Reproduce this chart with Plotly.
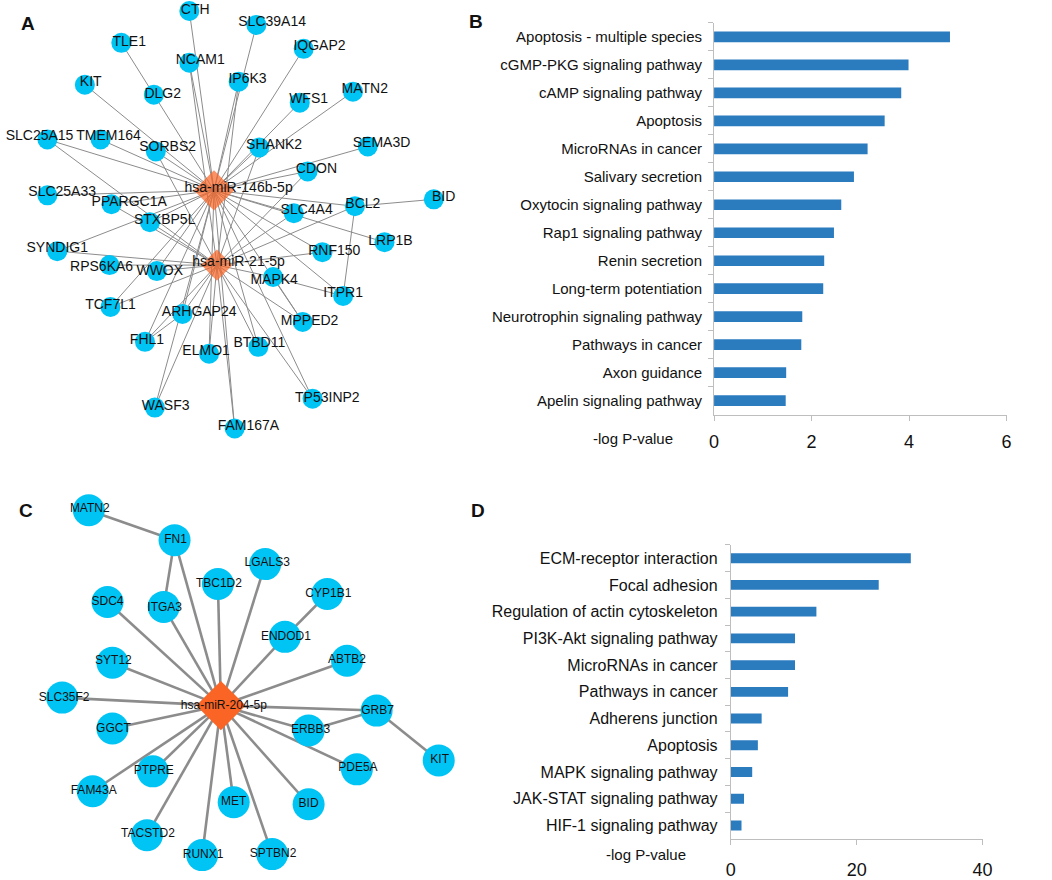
import plotly.graph_objects as go

# ---------------- Panel B data ----------------
b_terms = ["Apoptosis - multiple species", "cGMP-PKG signaling pathway", "cAMP signaling pathway",
           "Apoptosis", "MicroRNAs in cancer", "Salivary secretion", "Oxytocin signaling pathway",
           "Rap1 signaling pathway", "Renin secretion", "Long-term potentiation",
           "Neurotrophin signaling pathway", "Pathways in cancer", "Axon guidance",
           "Apelin signaling pathway"]
b_values = [4.84, 3.99, 3.84, 3.50, 3.15, 2.87, 2.61, 2.46, 2.26, 2.24, 1.81, 1.79, 1.48, 1.47]
b_ticks = [0, 2, 4, 6]

# ---------------- Panel D data ----------------
d_terms = ["ECM-receptor interaction", "Focal adhesion", "Regulation of actin cytoskeleton",
           "PI3K-Akt signaling pathway", "MicroRNAs in cancer", "Pathways in cancer",
           "Adherens junction", "Apoptosis", "MAPK signaling pathway",
           "JAK-STAT signaling pathway", "HIF-1 signaling pathway"]
d_values = [28.6, 23.5, 13.6, 10.2, 10.2, 9.1, 4.9, 4.3, 3.4, 2.1, 1.7]
d_ticks = [0, 20, 40]

# ---------------- Panel A network (layout coordinates) ----------------
a_genes = ["CTH", "SLC39A14", "TLE1", "NCAM1", "IQGAP2", "IP6K3", "KIT", "DLG2", "MATN2", "WFS1",
           "SLC25A15", "TMEM164", "SORBS2", "SHANK2", "SEMA3D", "CDON", "SLC25A33", "PPARGC1A",
           "BCL2", "BID", "SLC4A4", "STXBP5L", "SYNDIG1", "LRP1B", "RNF150", "RPS6KA6", "WWOX",
           "MAPK4", "ITPR1", "TCF7L1", "ARHGAP24", "MPPED2", "FHL1", "ELMO1", "BTBD11", "WASF3",
           "TP53INP2", "FAM167A"]
a_x = [187, 255, 118, 187, 303, 237, 81, 151, 353, 299, 43, 97, 153, 258, 368, 307, 43, 108,
       355, 435, 293, 147, 53, 385, 322, 106, 154, 272, 343, 107, 180, 302, 142, 207, 257, 152,
       312, 233]
a_y = [11, 25, 43, 63, 49, 82, 85, 95, 92, 103, 140, 140, 152, 148, 147, 172, 196, 205,
       207, 200, 214, 223, 252, 243, 253, 266, 272, 278, 297, 308, 315, 323, 343, 355, 348, 409,
       400, 430]
a_lx = [193, 271, 126, 198, 319, 246, 87, 160, 365, 308, 35, 105, 165, 273, 382, 316, 58, 126,
        363, 445, 306, 162, 53, 391, 334, 98, 157, 273, 343, 107, 197, 309, 144, 204, 258, 163,
        327, 247]
a_ly = [11, 23, 43, 61, 47, 80, 83, 95, 90, 100, 137, 137, 148, 146, 144, 170, 193, 203,
        205, 198, 211, 221, 249, 242, 252, 268, 272, 281, 295, 307, 314, 323, 342, 353, 345, 408,
        400, 428]
a_mirs = ["hsa-miR-146b-5p", "hsa-miR-21-5p"]
a_mir_x = [212, 215]
a_mir_y = [191, 266]
a_mir_lx = [237, 237]
a_mir_ly = [189, 263]

a_targets_146b = ["CTH", "SLC39A14", "NCAM1", "IQGAP2", "IP6K3", "KIT", "DLG2", "MATN2", "WFS1",
                  "SLC25A15", "TMEM164", "SORBS2", "SHANK2", "SEMA3D", "CDON", "SLC25A33",
                  "PPARGC1A", "STXBP5L", "BCL2", "SLC4A4", "LRP1B", "ITPR1", "RNF150", "MPPED2",
                  "BTBD11", "TP53INP2", "FAM167A", "ELMO1", "ARHGAP24", "WWOX", "FHL1", "WASF3",
                  "SYNDIG1", "TCF7L1"]
a_targets_21 = ["SLC25A15", "SORBS2", "SHANK2", "CDON", "BCL2", "SLC4A4", "RNF150", "MAPK4",
                "MPPED2", "PPARGC1A", "STXBP5L", "SYNDIG1", "RPS6KA6", "WWOX", "TCF7L1",
                "ARHGAP24", "FHL1", "ELMO1", "BTBD11", "WASF3", "FAM167A", "TP53INP2", "NCAM1",
                "IP6K3"]
a_gene_links = [("TLE1", "DLG2"), ("BID", "BCL2"), ("BCL2", "ITPR1"), ("MAPK4", "ITPR1"),
                ("MAPK4", "MPPED2"), ("ARHGAP24", "FHL1")]

# ---------------- Panel C network ----------------
c_genes = ["MATN2", "FN1", "LGALS3", "TBC1D2", "CYP1B1", "SDC4", "ITGA3", "ENDOD1", "ABTB2",
           "SYT12", "SLC35F2", "GRB7", "GGCT", "ERBB3", "KIT", "PDE5A", "PTPRE", "FAM43A", "MET",
           "BID", "TACSTD2", "RUNX1", "SPTBN2"]
c_x = [85, 172, 264, 216, 327, 104, 161, 284, 347, 109, 58, 377, 109, 308, 440, 357, 150, 89,
       232, 308, 144, 200, 271]
c_y = [512, 542, 566, 586, 596, 604, 609, 639, 663, 665, 700, 713, 731, 733, 763, 772, 774, 794,
       805, 807, 838, 858, 857]
c_lx = [86, 173, 266, 217, 328, 104, 162, 285, 347, 110, 60, 378, 110, 310, 441, 358, 151, 90,
        232, 308, 145, 201, 272]
c_ly = [511, 542, 565, 586, 596, 604, 610, 639, 662, 663, 700, 713, 731, 732, 763, 771, 774, 794,
        805, 807, 837, 858, 857]
c_mir = "hsa-miR-204-5p"
c_mir_x = 219
c_mir_y = 708
c_mir_lx = 222
c_mir_ly = 708
c_targets = ["FN1", "LGALS3", "TBC1D2", "SDC4", "ITGA3", "ENDOD1", "ABTB2", "SYT12", "SLC35F2",
             "GRB7", "GGCT", "ERBB3", "PDE5A", "PTPRE", "FAM43A", "MET", "BID", "TACSTD2",
             "RUNX1", "SPTBN2"]
c_gene_links = [("MATN2", "FN1"), ("FN1", "ITGA3"), ("CYP1B1", "ENDOD1"), ("GRB7", "ERBB3"),
                ("GRB7", "KIT")]

# ---------------- styles ----------------
FONT = "Liberation Sans, Arial, sans-serif"
NODE = "#00C4F4"
HUB = "#FA6424"
EDGE = "#8C8C8C"
BAR = "#2B7BBF"
AXIS = "#BEBEBE"
TXT = "#111111"

fig = go.Figure()


def edge_xy(pos, links):
    xs, ys = [], []
    for s, t in links:
        xs += [pos[s][0], pos[t][0], None]
        ys += [pos[s][1], pos[t][1], None]
    return xs, ys


# ---- Panel B bars ----
fig.add_trace(go.Bar(x=b_values, y=b_terms, orientation="h", marker=dict(color=BAR, line=dict(width=0)),
                     width=0.38, xaxis="x", yaxis="y", showlegend=False))
# ---- Panel D bars ----
fig.add_trace(go.Bar(x=d_values, y=d_terms, orientation="h", marker=dict(color=BAR, line=dict(width=0)),
                     width=0.37, xaxis="x2", yaxis="y2", showlegend=False))

# ---- Panel A ----
posA = {g: (x, y) for g, x, y in zip(a_genes, a_x, a_y)}
posA["m146"] = (a_mir_x[0], a_mir_y[0])
posA["m21"] = (a_mir_x[1], a_mir_y[1])
linksA = [("m146", g) for g in a_targets_146b] + [("m21", g) for g in a_targets_21] + a_gene_links
ex, ey = edge_xy(posA, linksA)
fig.add_trace(go.Scatter(x=ex, y=ey, mode="lines", line=dict(color=EDGE, width=1),
                         xaxis="x3", yaxis="y3", hoverinfo="skip", showlegend=False))
fig.add_trace(go.Scatter(x=a_x, y=a_y, mode="markers", marker=dict(size=20, color=NODE, line=dict(width=0)),
                         xaxis="x3", yaxis="y3", showlegend=False, hoverinfo="skip"))
fig.add_trace(go.Scatter(x=a_mir_x, y=a_mir_y, mode="markers",
                         marker=dict(symbol="diamond", size=[31, 24], color=HUB, line=dict(width=0)),
                         xaxis="x3", yaxis="y3", showlegend=False, hoverinfo="skip"))
fig.add_trace(go.Scatter(x=a_lx + a_mir_lx, y=a_ly + a_mir_ly, mode="text", text=a_genes + a_mirs,
                         textfont=dict(family=FONT, size=14, color=TXT), textposition="middle center",
                         xaxis="x3", yaxis="y3", showlegend=False, hoverinfo="skip"))

# ---- Panel C ----
posC = {g: (x, y) for g, x, y in zip(c_genes, c_x, c_y)}
posC["m204"] = (c_mir_x, c_mir_y)
linksC = [("m204", g) for g in c_targets] + c_gene_links
ex, ey = edge_xy(posC, linksC)
fig.add_trace(go.Scatter(x=ex, y=ey, mode="lines", line=dict(color=EDGE, width=2.6),
                         xaxis="x3", yaxis="y3", hoverinfo="skip", showlegend=False))
fig.add_trace(go.Scatter(x=c_x, y=c_y, mode="markers", marker=dict(size=32, color=NODE, line=dict(width=0)),
                         xaxis="x3", yaxis="y3", showlegend=False, hoverinfo="skip"))
fig.add_trace(go.Scatter(x=[c_mir_x], y=[c_mir_y], mode="markers",
                         marker=dict(symbol="diamond", size=38, color=HUB, line=dict(width=0)),
                         xaxis="x3", yaxis="y3", showlegend=False, hoverinfo="skip"))
fig.add_trace(go.Scatter(x=c_lx + [c_mir_lx], y=c_ly + [c_mir_ly], mode="text", text=c_genes + [c_mir],
                         textfont=dict(family=FONT, size=12, color=TXT), textposition="middle center",
                         xaxis="x3", yaxis="y3", showlegend=False, hoverinfo="skip"))

W, H = 1052, 880
bar_x = dict(showgrid=False, zeroline=False, showline=True, linecolor=AXIS, linewidth=1,
             ticks="outside", ticklen=5, tickcolor=AXIS, tickfont=dict(family=FONT, size=18, color=TXT))
bar_y = dict(showgrid=False, zeroline=False, showline=True, linecolor=AXIS, linewidth=1,
             ticks="outside", ticklen=5, tickcolor=AXIS, tickson="boundaries", autorange="reversed",
             type="category")

fig.update_layout(
    width=W, height=H, margin=dict(l=0, r=0, t=0, b=0),
    paper_bgcolor="white", plot_bgcolor="rgba(0,0,0,0)",
    font=dict(family=FONT, color=TXT),
    xaxis=dict(domain=[719.3 / W, 1016 / W], range=[0, 6], tickvals=b_ticks, anchor="y",
               ticklabelstandoff=6, **bar_x),
    yaxis=dict(domain=[1 - 416 / H, 1 - 23 / H], anchor="x", categoryorder="array", categoryarray=b_terms,
               tickfont=dict(family=FONT, size=15, color=TXT), ticklabelstandoff=8, **bar_y),
    xaxis2=dict(domain=[736.3 / W, 991.7 / W], range=[0, 40], tickvals=d_ticks, anchor="y2",
                ticklabelstandoff=10, **bar_x),
    yaxis2=dict(domain=[1 - 841.7 / H, 1 - 546.7 / H], anchor="x2", categoryorder="array",
                categoryarray=d_terms, tickfont=dict(family=FONT, size=16, color=TXT),
                ticklabelstandoff=9, **bar_y),
    xaxis3=dict(domain=[0, 1], range=[0, W], visible=False, anchor="y3"),
    yaxis3=dict(domain=[0, 1], range=[H, 0], visible=False, anchor="x3"),
    annotations=[
        dict(text="-log P-value", x=637 / W, y=1 - 440 / H, xref="paper", yref="paper", showarrow=False,
             font=dict(family=FONT, size=15, color=TXT)),
        dict(text="-log P-value", x=650 / W, y=1 - 868 / H, xref="paper", yref="paper", showarrow=False,
             font=dict(family=FONT, size=15, color=TXT)),
        dict(text="<b>A</b>", x=14 / W, y=1 - 11 / H, xref="paper", yref="paper", showarrow=False,
             font=dict(family=FONT, size=19, color=TXT)),
        dict(text="<b>B</b>", x=478 / W, y=1 - 9 / H, xref="paper", yref="paper", showarrow=False,
             font=dict(family=FONT, size=19, color=TXT)),
        dict(text="<b>C</b>", x=12 / W, y=1 - 512 / H, xref="paper", yref="paper", showarrow=False,
             font=dict(family=FONT, size=19, color=TXT)),
        dict(text="<b>D</b>", x=480 / W, y=1 - 512 / H, xref="paper", yref="paper", showarrow=False,
             font=dict(family=FONT, size=19, color=TXT)),
    ],
)

fig.write_html("out.html", config={"displayModeBar": False},
               post_script="document.body.style.margin='0';document.body.style.overflow='hidden';")
